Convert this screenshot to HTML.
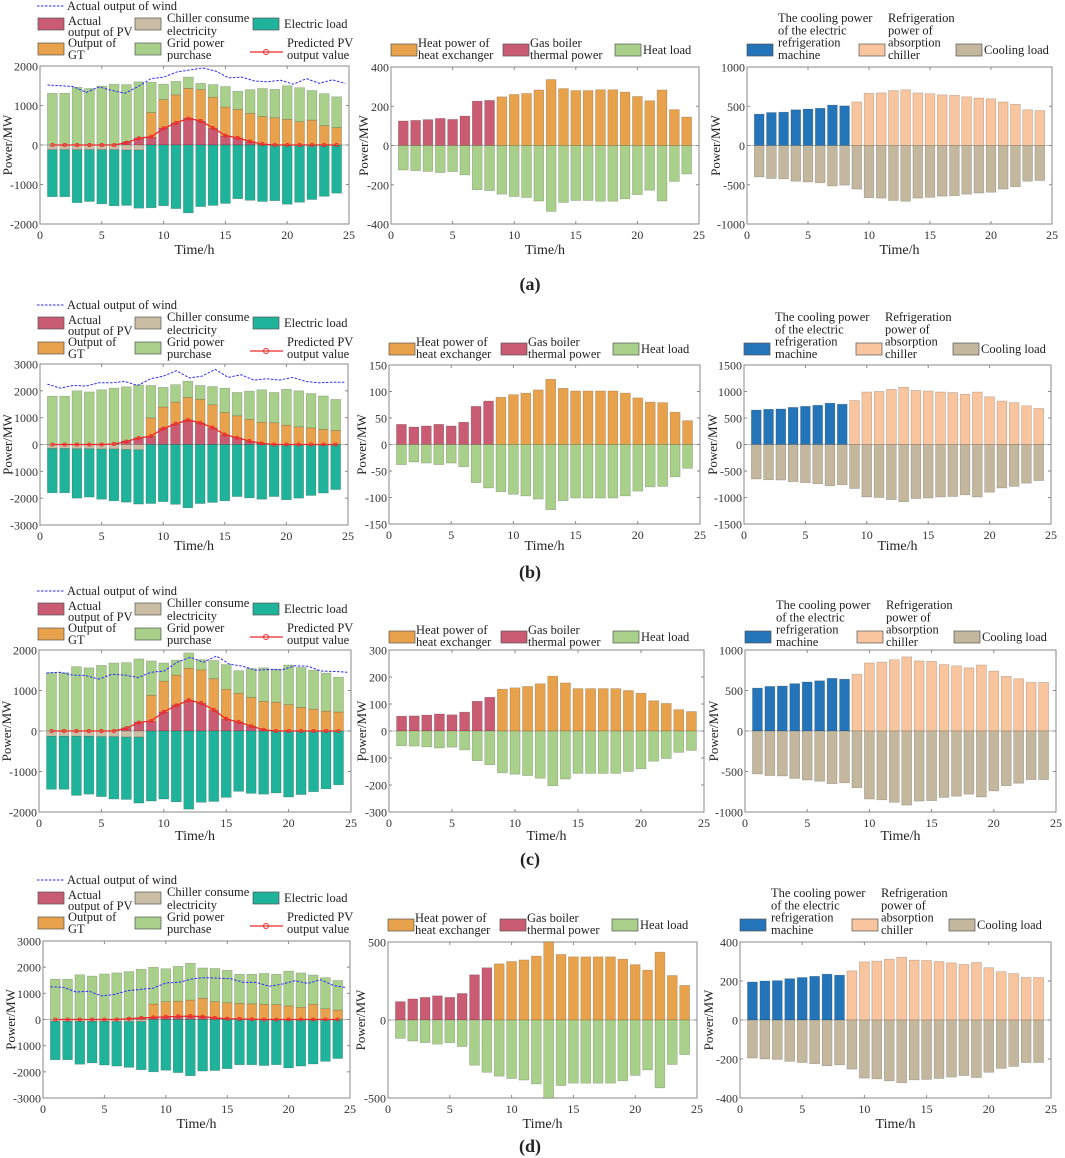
<!DOCTYPE html>
<html><head><meta charset="utf-8">
<style>
html,body{margin:0;padding:0;background:#fff;}
svg{display:block;font-family:"Liberation Serif",serif;}
</style></head>
<body>
<svg id="fig" width="1065" height="1158" viewBox="0 0 1065 1158" xmlns="http://www.w3.org/2000/svg"></svg>
<script>
// ---------- data ----------
const hours = [1,2,3,4,5,6,7,8,9,10,11,12,13,14,15,16,17,18,19,20,21,22,23,24];
const xTicks = [0,5,10,15,20,25];
// electric balance charts
const totalA = [1310,1310,1460,1430,1490,1540,1530,1600,1590,1540,1610,1720,1560,1530,1480,1360,1400,1430,1410,1500,1450,1380,1300,1220];
const chillerA = [120,120,120,120,120,120,130,130,0,0,0,0,0,0,0,0,0,0,0,0,0,0,0,0];
const pvA = [0,0,0,0,0,0,80,180,200,430,560,680,600,420,230,180,80,20,0,0,0,0,0,0];
const pvgtA = [0,0,0,0,0,0,80,180,820,1150,1270,1430,1400,1210,960,900,800,720,690,650,590,630,490,440];
const predA = [0,0,0,0,0,0,60,170,210,420,560,670,610,430,240,180,90,20,0,0,0,0,0,0];
const windA = [1520,1500,1480,1330,1470,1380,1310,1480,1680,1720,1850,1900,1950,1870,1700,1720,1620,1600,1640,1540,1680,1560,1650,1560];
const totalB = [1800,1800,2000,1960,2040,2100,2150,2220,2200,2130,2230,2360,2200,2160,2100,1940,1990,2040,1940,2060,2000,1900,1810,1680];
const chillerB = [150,150,160,160,170,170,190,200,0,0,0,0,0,0,0,0,0,0,0,0,0,0,0,0];
const pvB = [0,0,0,0,0,30,130,250,300,600,760,920,800,620,360,250,120,40,0,0,0,0,0,0];
const pvgtB = [0,0,0,0,0,30,130,250,990,1400,1580,1750,1680,1480,1190,1070,940,830,810,720,660,620,560,520];
const predB = [0,0,0,0,0,20,110,240,310,590,770,910,810,630,370,250,130,40,0,0,0,0,0,0];
const windB = [2250,2100,2200,2180,2300,2300,2350,2200,2450,2550,2750,2480,2550,2800,2500,2600,2400,2450,2400,2500,2350,2300,2320,2320];
const totalC = [1440,1440,1590,1560,1620,1680,1690,1780,1730,1680,1750,1930,1760,1740,1640,1490,1540,1560,1530,1630,1570,1500,1430,1330];
const chillerC = [130,130,130,130,140,140,150,150,0,0,0,0,0,0,0,0,0,0,0,0,0,0,0,0];
const pvC = [0,0,0,0,0,0,80,220,240,470,640,760,680,510,290,220,120,30,0,0,0,0,0,0];
const pvgtC = [0,0,0,0,0,0,80,220,880,1230,1380,1550,1510,1290,1030,930,830,730,710,650,580,540,490,470];
const predC = [0,0,0,0,0,0,70,210,250,470,630,760,690,520,300,220,120,30,0,0,0,0,0,0];
const windC = [1430,1450,1380,1370,1280,1400,1380,1320,1450,1480,1700,1820,1700,1850,1650,1600,1500,1520,1510,1610,1600,1480,1470,1450];
const totalD = [1540,1540,1710,1660,1740,1780,1830,1920,2000,1940,2030,2150,1970,1950,1880,1730,1730,1760,1730,1850,1780,1700,1600,1490];
const chillerD = [70,70,70,70,70,80,80,80,0,0,0,0,0,0,0,0,0,0,0,0,0,0,0,0];
const pvD = [0,0,0,0,0,0,30,70,80,100,120,140,110,60,30,20,10,0,0,0,0,0,0,0];
const pvgtD = [0,0,0,0,0,0,30,70,590,680,700,740,810,680,640,610,600,580,570,520,470,580,410,360];
const predD = [0,0,0,0,0,0,30,60,80,100,120,130,110,60,30,20,10,0,0,0,0,0,0,0];
const windD = [1250,1230,1050,1080,900,960,1100,1150,1200,1400,1420,1550,1600,1580,1560,1420,1420,1270,1350,1480,1380,1520,1300,1220];
const elecTicksA = [-2000,-1000,0,1000,2000];
const elecTicksB = [-3000,-2000,-1000,0,1000,2000,3000];
const elecTicksC = [-2000,-1000,0,1000,2000];
const elecTicksD = [-3000,-2000,-1000,0,1000,2000,3000];
// heat charts (hours 1-8 gas boiler, 9-24 heat exchanger)
const heatA = [125,128,132,138,133,150,226,230,248,260,265,283,336,290,280,280,284,284,272,250,228,283,183,145];
const heatB = [38,33,35,38,35,42,72,82,89,94,97,103,123,106,101,101,101,101,97,88,80,79,61,45];
const heatC = [55,56,59,63,60,70,110,125,155,160,165,175,203,178,157,157,157,157,150,140,112,102,79,72];
const heatD = [118,135,145,155,145,170,290,335,360,375,385,410,500,420,405,405,405,405,390,355,320,435,285,222];
const heatTicksA = [-400,-200,0,200,400];
const heatTicksB = [-150,-100,-50,0,50,100,150];
const heatTicksC = [-300,-200,-100,0,100,200,300];
const heatTicksD = [-500,0,500];
// cooling charts (hours 1-8 electric refrigeration, 9-24 absorption)
const coolA = [400,420,425,455,465,475,515,505,555,665,670,700,710,670,660,645,640,620,605,595,555,525,455,445];
const coolB = [650,665,670,700,720,740,780,760,830,990,1000,1040,1080,1020,1010,990,980,950,990,900,820,790,730,680];
const coolC = [530,550,555,585,605,620,650,640,700,840,850,880,915,865,860,820,805,780,815,740,675,645,600,600];
const coolD = [195,200,202,212,218,224,235,230,252,298,302,312,322,307,305,300,293,285,295,268,248,238,218,218];
const coolTicksA = [-1000,-500,0,500,1000];
const coolTicksB = [-1500,-1000,-500,0,500,1000,1500];
const coolTicksC = [-1000,-500,0,500,1000];
const coolTicksD = [-400,-200,0,200,400];
const panelLabels = ["(a)","(b)","(c)","(d)"];

// ---------- layout ----------
const NS = "http://www.w3.org/2000/svg";
const svg = document.getElementById("fig");
const C = {pv:"#c95c72",chill:"#c9bea3",elec:"#20b39b",gt:"#e9a24c",grid:"#a9d08a",wind:"#2b2bff",pred:"#ee2a2a",blue:"#2474b9",peach:"#f8c59e",cload:"#c3b79d"};
function mk(tag, attrs, parent){const e=document.createElementNS(NS,tag);for(const k in attrs)e.setAttribute(k,attrs[k]);(parent||svg).appendChild(e);return e;}
function txt(s,x,y,size,anchor,parent,extra){const t=mk("text",Object.assign({x:x,y:y,"font-size":size,fill:"#222","text-anchor":anchor||"start"},extra||{}),parent);t.textContent=s;return t;}

const rows = [
 {elec:{x0:40,x1:349,y0:66,y1:224},heat:{x0:391,x1:699,y0:67,y1:224},cool:{x0:747,x1:1052,y0:67,y1:224},tl:254,lab:290,dl:0,dm:0,mx:0,rx:0},
 {elec:{x0:40,x1:348,y0:364,y1:525},heat:{x0:389,x1:700,y0:365,y1:524},cool:{x0:744,x1:1051,y0:365,y1:524},tl:550,lab:578,dl:299,dm:299,mx:-2,rx:-3},
 {elec:{x0:39,x1:351,y0:650,y1:812},heat:{x0:389,x1:704,y0:650,y1:812},cool:{x0:745,x1:1056,y0:650,y1:812},tl:840,lab:865,dl:585,dm:587,mx:-2,rx:-2},
 {elec:{x0:43,x1:350,y0:941,y1:1098},heat:{x0:388,x1:697,y0:942,y1:1098},cool:{x0:740,x1:1051,y0:942,y1:1098},tl:1128,lab:1152,dl:874,dm:875,mx:-3,rx:-7}
];
const elecData = [[totalA,chillerA,pvA,pvgtA,predA,windA,elecTicksA],[totalB,chillerB,pvB,pvgtB,predB,windB,elecTicksB],[totalC,chillerC,pvC,pvgtC,predC,windC,elecTicksC],[totalD,chillerD,pvD,pvgtD,predD,windD,elecTicksD]];
const heatData = [[heatA,heatTicksA],[heatB,heatTicksB],[heatC,heatTicksC],[heatD,heatTicksD]];
const coolData = [[coolA,coolTicksA],[coolB,coolTicksB],[coolC,coolTicksC],[coolD,coolTicksD]];

function axes(box, ticks, name){
  const g = mk("g",{});
  
  
  const ymin=ticks[0], ymax=ticks[ticks.length-1];
  const sx = v => box.x0 + (v/25)*(box.x1-box.x0);
  const sy = v => box.y1 - (v-ymin)/(ymax-ymin)*(box.y1-box.y0);
  return {g,sx,sy,ymin,ymax};
}
function frame(ax, box, ticks, lblOff){
  const g = ax.g;
  mk("line",{x1:box.x0,x2:box.x1,y1:ax.sy(0),y2:ax.sy(0),stroke:"#bbb","stroke-width":1},g);
  const fr = mk("rect",{x:box.x0,y:box.y0,width:box.x1-box.x0,height:box.y1-box.y0,fill:"none",stroke:"#8a8a8a","stroke-width":1},g);
  
  
  ticks.forEach(t=>{
    const y=ax.sy(t);
    mk("line",{x1:box.x0,x2:box.x0+3,y1:y,y2:y,stroke:"#8a8a8a"},g);
    mk("line",{x1:box.x1,x2:box.x1-3,y1:y,y2:y,stroke:"#8a8a8a"},g);
    const tl = txt(String(t),box.x0-2,y+4.5,12,"end",g,{fill:"#333"});
    
    
  });
  xTicks.forEach(t=>{
    const x=ax.sx(t);
    mk("line",{x1:x,x2:x,y1:box.y1,y2:box.y1-3,stroke:"#8a8a8a"},g);
    mk("line",{x1:x,x2:x,y1:box.y0,y2:box.y0+3,stroke:"#8a8a8a"},g);
    const tl = txt(String(t),x,box.y1+15,12,"middle",g,{fill:"#333"});
    
    
  });
  const yl = txt("Power/MW",0,0,13,"middle",g,{transform:`translate(${box.x0-lblOff},${(box.y0+box.y1)/2}) rotate(-90)`});
  
  
}
function bar(g, ax, h, v0, v1, fill, name){
  if (v0===v1) return;
  const w=0.8, x=ax.sx(h-w/2), x2=ax.sx(h+w/2);
  const y=Math.min(ax.sy(v0),ax.sy(v1)), y2=Math.max(ax.sy(v0),ax.sy(v1));
  const r = mk("rect",{x:x,y:y,width:x2-x,height:y2-y,fill:fill,stroke:"rgba(0,0,0,0.25)","stroke-width":0.6},g);
  
  
}

rows.forEach((R,ri)=>{
  // electric chart
  const [tot,chl,pv,pvgt,pred,wind,et] = elecData[ri];
  const ax = axes(R.elec, et, "electric-balance-chart");
  frame(ax, R.elec, et, 28);
  hours.forEach((h,i)=>{
    bar(ax.g,ax,h,0,pv[i],C.pv,"bar-pv");
    bar(ax.g,ax,h,pv[i],pvgt[i],C.gt,"bar-gt");
    bar(ax.g,ax,h,pvgt[i],tot[i],C.grid,"bar-grid");
    bar(ax.g,ax,h,0,-chl[i],C.chill,"bar-chiller");
    bar(ax.g,ax,h,-chl[i],-tot[i],C.elec,"bar-electric-load");
  });
  const pts = pred.map((v,i)=>ax.sx(hours[i])+","+ax.sy(v)).join(" ");
  const pl = mk("polyline",{points:pts,fill:"none",stroke:C.pred,"stroke-width":1.3},ax.g);
  
  
  pred.forEach((v,i)=>{
    const c = mk("circle",{cx:ax.sx(hours[i]),cy:ax.sy(v),r:1.6,fill:"none",stroke:C.pred,"stroke-width":0.9},ax.g);
    
    
  });
  const wp = wind.map((v,i)=>ax.sx(0.6+i*24.1/23)+","+ax.sy(v)).join(" ");
  const wl = mk("polyline",{points:wp,fill:"none",stroke:C.wind,"stroke-width":1,"stroke-dasharray":"2.5,1.5"},ax.g);
  
  
  const t1 = txt("Time/h",(R.elec.x0+R.elec.x1)/2,R.tl,14,"middle");
  
  

  // heat chart
  const [heat,ht] = heatData[ri];
  const hx = axes(R.heat, ht, "heat-balance-chart");
  frame(hx, R.heat, ht, 23);
  hours.forEach((h,i)=>{
    bar(hx.g,hx,h,0,heat[i],h<=8?C.pv:C.gt,h<=8?"bar-gas-boiler":"bar-heat-exchanger");
    bar(hx.g,hx,h,0,-heat[i],C.grid,"bar-heat-load");
  });
  const t2 = txt("Time/h",(R.heat.x0+R.heat.x1)/2,R.tl,14,"middle");
  
  

  // cooling chart
  const [cool,ct] = coolData[ri];
  const cx = axes(R.cool, ct, "cooling-balance-chart");
  frame(cx, R.cool, ct, 27);
  hours.forEach((h,i)=>{
    bar(cx.g,cx,h,0,cool[i],h<=8?C.blue:C.peach,h<=8?"bar-electric-refrigeration":"bar-absorption-chiller");
    bar(cx.g,cx,h,0,-cool[i],C.cload,"bar-cooling-load");
  });
  const t3 = txt("Time/h",(R.cool.x0+R.cool.x1)/2,R.tl,14,"middle");
  
  

  // panel label
  const pl2 = txt(panelLabels[ri],530,R.lab,18,"middle",svg,{"font-weight":"bold"});
  
  

  // left legend
  const L = mk("g",{transform:`translate(0,${R.dl})`});
  
  
  mk("line",{x1:37,x2:64,y1:6,y2:6,stroke:C.wind,"stroke-dasharray":"2.5,1.5"},L);
  txt("Actual output of wind",67,10,12.5,"start",L);
  function sw(x,y,fill){mk("rect",{x:x,y:y,width:26,height:12,fill:fill,stroke:"#555","stroke-width":0.7},L);}
  sw(38,18,C.pv); txt("Actual",68,25,12.5,"start",L); txt("output of PV",68,36,12.5,"start",L);
  sw(135,18,C.chill); txt("Chiller consume",167,22,12.5,"start",L); txt("electricity",167,35,12.5,"start",L);
  sw(253,18,C.elec); txt("Electric load",284,28,12.5,"start",L);
  sw(38,43,C.gt); txt("Output of",68,47,12.5,"start",L); txt("GT",68,59,12.5,"start",L);
  sw(135,43,C.grid); txt("Grid power",167,47,12.5,"start",L); txt("purchase",167,59,12.5,"start",L);
  mk("line",{x1:250,x2:283,y1:52,y2:52,stroke:C.pred,"stroke-width":1.3},L);
  mk("circle",{cx:266,cy:52,r:2.5,fill:"none",stroke:C.pred},L);
  txt("Predicted PV",287,47,12.5,"start",L); txt("output value",287,59,12.5,"start",L);

  // middle legend
  const M = mk("g",{transform:`translate(${R.mx},${R.dm})`});
  
  
  function sw2(x,fill){mk("rect",{x:x,y:44,width:26,height:12,fill:fill,stroke:"#555","stroke-width":0.7},M);}
  sw2(391,C.gt); txt("Heat power of",418,47,12.5,"start",M); txt("heat exchanger",418,59,12.5,"start",M);
  sw2(503,C.pv); txt("Gas boiler",530,47,12.5,"start",M); txt("thermal power",530,59,12.5,"start",M);
  sw2(615,C.grid); txt("Heat load",643,54,12.5,"start",M);
  // right legend
  const N = mk("g",{transform:`translate(${R.rx},${R.dm})`});
  
  
  function sw3(x,fill){mk("rect",{x:x,y:44,width:26,height:12,fill:fill,stroke:"#555","stroke-width":0.7},N);}
  sw3(747,C.blue);
  ["The cooling power","of the electric","refrigeration","machine"].forEach((s,k)=>txt(s,778,22+k*12.3,12.5,"start",N));
  sw3(859,C.peach);
  ["Refrigeration","power of","absorption","chiller"].forEach((s,k)=>txt(s,888,22+k*12.3,12.5,"start",N));
  sw3(956,C.cload); txt("Cooling load",984,54,12.5,"start",N);
});
</script>
</body></html>
